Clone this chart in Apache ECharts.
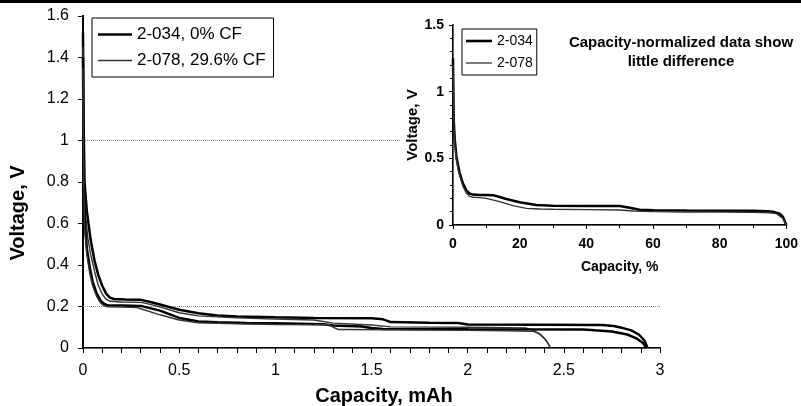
<!DOCTYPE html>
<html>
<head>
<meta charset="utf-8">
<script src="https://cdn.jsdelivr.net/npm/echarts@6/dist/echarts.min.js"></script>
<style>
  html, body { margin: 0; padding: 0; background: #fff; }
  #chart { width: 801px; height: 406px; }
</style>
</head>
<body>
<div id="chart"></div>
<script>
// Discharge curves, capacity in mAh vs. voltage in V
const cell034aCap  = [0, 0.003, 0.008, 0.02, 0.04, 0.06, 0.08, 0.1, 0.12, 0.14, 0.16, 0.22, 0.3, 0.35, 0.4, 0.5, 0.6, 0.7, 0.8, 1.0, 1.2, 1.5, 1.56, 1.6, 1.8, 1.95, 2.0, 2.4, 2.7, 2.76, 2.8, 2.85, 2.89, 2.92, 2.935];
const cell034aVolt = [1.52, 1.1, 0.8, 0.66, 0.52, 0.42, 0.35, 0.3, 0.262, 0.243, 0.236, 0.234, 0.232, 0.222, 0.21, 0.184, 0.167, 0.157, 0.152, 0.148, 0.145, 0.143, 0.138, 0.125, 0.122, 0.12, 0.113, 0.112, 0.111, 0.106, 0.098, 0.085, 0.065, 0.035, 0];

const cell034bCap  = [0, 0.003, 0.006, 0.01, 0.02, 0.035, 0.05, 0.07, 0.09, 0.11, 0.13, 0.2, 0.3, 0.4, 0.5, 0.6, 0.7, 0.85, 1.0, 1.25, 1.3, 1.45, 1.5, 1.56, 2.0, 2.6, 2.66, 2.75, 2.83, 2.88, 2.91, 2.93];
const cell034bVolt = [1.4, 0.9, 0.7, 0.6, 0.48, 0.39, 0.32, 0.265, 0.23, 0.212, 0.205, 0.205, 0.203, 0.18, 0.145, 0.128, 0.124, 0.12, 0.119, 0.114, 0.108, 0.104, 0.096, 0.092, 0.09, 0.089, 0.085, 0.08, 0.065, 0.045, 0.025, 0];

const cell078aCap  = [0, 0.003, 0.008, 0.015, 0.025, 0.04, 0.06, 0.08, 0.1, 0.12, 0.14, 0.2, 0.3, 0.35, 0.4, 0.5, 0.6, 0.8, 1.0, 1.2, 1.3, 1.5, 1.6, 2.0, 2.3, 2.33, 2.37, 2.4, 2.42, 2.43];
const cell078aVolt = [1.45, 1.0, 0.75, 0.63, 0.53, 0.45, 0.37, 0.3, 0.26, 0.235, 0.225, 0.222, 0.22, 0.21, 0.198, 0.17, 0.155, 0.145, 0.14, 0.135, 0.12, 0.111, 0.102, 0.1, 0.097, 0.09, 0.07, 0.045, 0.02, 0];

const cell078bCap  = [0, 0.003, 0.006, 0.01, 0.02, 0.035, 0.05, 0.07, 0.09, 0.11, 0.13, 0.2, 0.28, 0.4, 0.5, 0.6, 0.8, 1.0, 1.28, 1.3, 1.33, 1.6, 2.0, 2.2, 2.34, 2.38, 2.41, 2.43];
const cell078bVolt = [1.35, 0.85, 0.66, 0.56, 0.45, 0.36, 0.3, 0.25, 0.218, 0.203, 0.198, 0.197, 0.195, 0.16, 0.135, 0.122, 0.117, 0.113, 0.112, 0.1, 0.089, 0.088, 0.085, 0.083, 0.081, 0.065, 0.035, 0];

// Same runs with capacity normalized to percent of total
const norm034Pct  = [0, 0.2, 0.5, 1, 1.5, 2, 3, 4, 5, 6, 8, 10, 12, 14, 16, 20, 25, 30, 40, 50, 53, 56, 60, 70, 80, 90, 94, 96, 98, 99, 100];
const norm034Volt = [1.25, 0.8, 0.65, 0.52, 0.45, 0.39, 0.31, 0.26, 0.235, 0.228, 0.225, 0.225, 0.224, 0.21, 0.195, 0.17, 0.15, 0.145, 0.143, 0.142, 0.13, 0.115, 0.11, 0.108, 0.107, 0.106, 0.104, 0.1, 0.085, 0.06, 0];

const norm078Pct  = [0, 0.3, 0.6, 1, 1.5, 2, 3, 4, 5, 6, 8, 10, 14, 18, 22, 26, 30, 40, 50, 54, 60, 70, 80, 90, 95, 97, 99, 100];
const norm078Volt = [1.2, 0.75, 0.6, 0.49, 0.42, 0.37, 0.29, 0.24, 0.215, 0.208, 0.205, 0.2, 0.175, 0.145, 0.125, 0.12, 0.118, 0.115, 0.112, 0.105, 0.1, 0.098, 0.097, 0.095, 0.092, 0.085, 0.05, 0];

const mainNames  = ['2-034, 0% CF', '2-078, 29.6% CF'];
const insetNames = ['2-034', '2-078'];
const gridValues = [1, 0.2];

const FONT = '"Liberation Sans", Arial, sans-serif';
const pairs = (xs, ys) => xs.map((x, i) => [x, ys[i]]);

const chart = echarts.init(document.getElementById('chart'), null, { renderer: 'canvas' });

const thick = { color: '#000', width: 2.5 };
const thin  = { color: '#333', width: 1.4 };

// flat bar shapes for legend keys (thick / thin stroke)
const keyThick = w => 'path://M0,0H' + w + 'V2.6H0Z';
const keyThin  = w => 'path://M0,0H' + w + 'V1.3H0Z';

function lineSeries(name, data, style, xi, yi, z, extra) {
  return Object.assign({
    type: 'line', name: name, data: data,
    xAxisIndex: xi, yAxisIndex: yi,
    symbol: 'none', showSymbol: false, smooth: false,
    lineStyle: style, itemStyle: { color: style.color },
    z: z, animation: false
  }, extra || {});
}

const option = {
  animation: false,
  textStyle: { fontFamily: FONT },
  grid: [
    { left: 83, right: 141, top: 16, bottom: 58 },
    { left: 453, right: 13, top: 25, bottom: 181, z: 10 }
  ],
  legend: [
    {
      data: [
        { name: mainNames[0], icon: keyThick(34) },
        { name: mainNames[1], icon: keyThin(34) }
      ],
      orient: 'vertical', left: 92, top: 18, symbolKeepAspect: true,
      padding: [8, 8, 8, 6], itemGap: 9, itemWidth: 34, itemHeight: 12,
      backgroundColor: '#fff', borderColor: '#000', borderWidth: 1,
      textStyle: { fontSize: 17, color: '#000', fontFamily: FONT }
    },
    {
      data: [
        { name: insetNames[0], icon: keyThick(26) },
        { name: insetNames[1], icon: keyThin(26) }
      ],
      orient: 'vertical', left: 462, top: 29, z: 12, symbolKeepAspect: true,
      padding: [5, 4, 5, 4], itemGap: 8, itemWidth: 26, itemHeight: 10,
      backgroundColor: '#fff', borderColor: '#000', borderWidth: 1,
      textStyle: { fontSize: 14, color: '#000', fontFamily: FONT }
    }
  ],
  xAxis: [
    {
      gridIndex: 0, type: 'value', min: 0, max: 3, interval: 0.5,
      axisLine: { lineStyle: { color: '#000', width: 2 } },
      axisTick: { show: true, inside: false, length: 5, lineStyle: { color: '#000' } },
      minorTick: { show: true, splitNumber: 5, length: 5, lineStyle: { color: '#000' } },
      axisLabel: { fontSize: 16, color: '#000', margin: 15, fontFamily: FONT },
      splitLine: { show: false }
    },
    {
      gridIndex: 0, type: 'value', min: 0, max: 3, position: 'top',
      axisLine: { show: true, lineStyle: { color: '#777', type: 'dotted', width: 1 } },
      axisTick: { show: false }, axisLabel: { show: false }, splitLine: { show: false }
    },
    {
      gridIndex: 1, type: 'value', min: 0, max: 100, interval: 20, z: 10,
      axisLine: { lineStyle: { color: '#000', width: 2 } },
      axisTick: { show: true, inside: false, length: 4, lineStyle: { color: '#000' } },
      minorTick: { show: true, splitNumber: 2, length: 3, lineStyle: { color: '#000' } },
      axisLabel: { fontSize: 14, fontWeight: 'bold', color: '#000', margin: 12, fontFamily: FONT },
      splitLine: { show: false },
      name: 'Capacity, %', nameLocation: 'middle', nameGap: 35,
      nameTextStyle: { fontSize: 14, fontWeight: 'bold', color: '#000', fontFamily: FONT }
    },
    {
      gridIndex: 1, type: 'value', min: 0, max: 100, position: 'top', z: 10,
      axisLine: { show: true, lineStyle: { color: '#777', type: 'dotted', width: 1 } },
      axisTick: { show: false }, axisLabel: { show: false }, splitLine: { show: false }
    }
  ],
  yAxis: [
    {
      gridIndex: 0, type: 'value', min: 0, max: 1.6, interval: 0.2,
      axisLine: { show: true, lineStyle: { color: '#000', width: 2 } },
      axisTick: { show: true, inside: false, length: 5, lineStyle: { color: '#000' } },
      axisLabel: { fontSize: 16, color: '#000', margin: 14, fontFamily: FONT },
      splitLine: { show: false }
    },
    {
      gridIndex: 0, type: 'value', min: 0, max: 1.6, position: 'right',
      axisLine: { show: true, lineStyle: { color: '#000', width: 2 } },
      axisTick: { show: false }, axisLabel: { show: false }, splitLine: { show: false }
    },
    {
      gridIndex: 1, type: 'value', min: 0, max: 1.5, interval: 0.5, z: 10,
      axisLine: { show: true, lineStyle: { color: '#000', width: 2 } },
      axisTick: { show: true, inside: false, length: 4, lineStyle: { color: '#000' } },
      minorTick: { show: true, splitNumber: 5, length: 3, lineStyle: { color: '#000' } },
      axisLabel: { fontSize: 14, fontWeight: 'bold', color: '#000', margin: 9, fontFamily: FONT },
      splitLine: { show: false },
      name: 'Voltage, V', nameLocation: 'middle', nameGap: 28,
      nameTextStyle: { fontSize: 15, fontWeight: 'bold', color: '#000', fontFamily: FONT }
    },
    {
      gridIndex: 1, type: 'value', min: 0, max: 1.5, position: 'right', z: 10,
      axisLine: { show: true, lineStyle: { color: '#777', type: 'dotted', width: 1 } },
      axisTick: { show: false }, axisLabel: { show: false }, splitLine: { show: false }
    }
  ],
  graphic: [
    // white panel behind the inset plot
    { type: 'rect', z: 5, silent: true, shape: { x: 400, y: 20, width: 401, height: 257 }, style: { fill: '#fff' } },
    // dark edge along the top of the page
    { type: 'rect', z: 50, silent: true, shape: { x: 0, y: 0, width: 801, height: 3 }, style: { fill: '#000' } },
    {
      type: 'text', z: 20, x: 18, y: 213, rotation: Math.PI / 2,
      style: { text: 'Voltage, V', font: 'bold 20px ' + FONT, fill: '#000', textAlign: 'center', textVerticalAlign: 'middle' }
    },
    {
      type: 'text', z: 20, x: 384, y: 396,
      style: { text: 'Capacity, mAh', font: 'bold 20px ' + FONT, fill: '#000', textAlign: 'center', textVerticalAlign: 'middle' }
    },
    {
      type: 'text', z: 20, x: 681, y: 52,
      style: { text: 'Capacity-normalized data show\nlittle difference', font: 'bold 15px ' + FONT, lineHeight: 19, fill: '#000', textAlign: 'center', textVerticalAlign: 'middle' }
    }
  ],
  series: [
    lineSeries(mainNames[0], pairs(cell034aCap, cell034aVolt), thick, 0, 0, 3, {
      markLine: {
        z: 1, silent: true, symbol: 'none', label: { show: false },
        lineStyle: { color: '#888', type: 'dotted', width: 1 },
        data: gridValues.map(v => ({ yAxis: v }))
      }
    }),
    lineSeries(mainNames[1], pairs(cell078aCap, cell078aVolt), thin, 0, 0, 3),
    lineSeries(mainNames[0], pairs(cell034bCap, cell034bVolt), thick, 0, 0, 3),
    lineSeries(mainNames[1], pairs(cell078bCap, cell078bVolt), thin, 0, 0, 3),
    lineSeries(insetNames[0], pairs(norm034Pct, norm034Volt), thick, 2, 2, 11),
    lineSeries(insetNames[1], pairs(norm078Pct, norm078Volt), thin, 2, 2, 11)
  ]
};

chart.setOption(option);
</script>
</body>
</html>
